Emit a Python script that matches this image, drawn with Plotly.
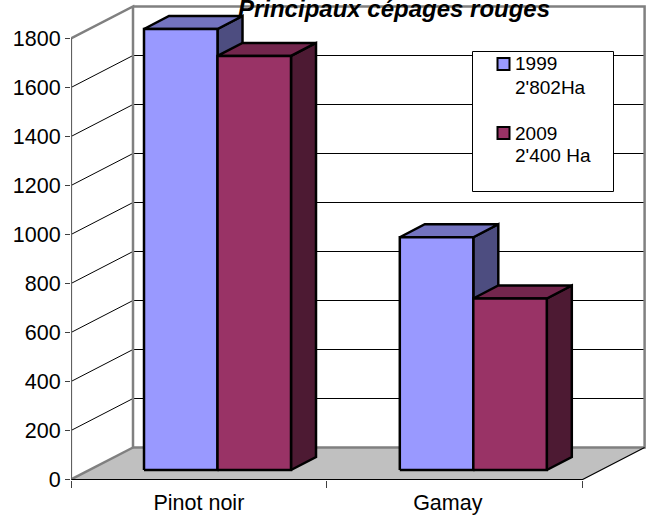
import plotly.graph_objects as go

categories = ["Pinot noir", "Gamay"]
category_label_positions = [0.5, 1.473]
series_names = ["1999", "2009"]
legend_lines = [["1999", "2'802Ha"], ["2009", "2'400 Ha"]]
values_1999 = [1800, 950]
values_2009 = [1690, 700]
y_ticks = [0, 200, 400, 600, 800, 1000, 1200, 1400, 1600, 1800]

FONT = "Liberation Sans, Arial, sans-serif"
W, H = 653, 515
L, B = 71, 35
PX_X, PX_Y = 255.8, 0.245       # pixels per axis unit
WALL_DX, WALL_DY = 62 / PX_X, 32 / PX_Y
BAR_DX, BAR_DY = 25 / PX_X, 13 / PX_Y
BAR_W = 73.5 / PX_X
BAR_X0 = 73 / PX_X
BASE = 9.5 / PX_Y
GREY = "#808080"

colors = {"1999": ("#9999FF", "#7373BF", "#4D4D80"),
          "2009": ("#993366", "#73264D", "#4D1A33")}

n = len(categories)
fig = go.Figure()


def poly(xs, ys, fill, line="black", width=2.5):
    fig.add_trace(go.Scatter(x=xs + xs[:1], y=ys + ys[:1], mode="lines", fill="toself",
                             fillcolor=fill, line=dict(color=line, width=width, shape="linear"),
                             hoverinfo="skip", showlegend=False, cliponaxis=False))


def seg(xs, ys, color, width):
    fig.add_trace(go.Scatter(x=xs, y=ys, mode="lines", line=dict(color=color, width=width),
                             hoverinfo="skip", showlegend=False, cliponaxis=False))


# floor
poly([0, n, n + WALL_DX, WALL_DX], [0, 0, WALL_DY, WALL_DY], "#C0C0C0", "rgba(0,0,0,0)", 0)

# side wall and back wall gridlines
for v in y_ticks[1:]:
    seg([0, WALL_DX, n + WALL_DX], [v, v + WALL_DY, v + WALL_DY], "black", 1)

# wall frame
top = y_ticks[-1]
seg([0, WALL_DX, n + WALL_DX, n + WALL_DX, WALL_DX, WALL_DX, 0],
    [top, top + WALL_DY, top + WALL_DY, WALL_DY, WALL_DY, top + WALL_DY, top], GREY, 2.5)
seg([0, WALL_DX], [0, WALL_DY], GREY, 2.5)

# front edges of floor and axis
seg([0, n, n + WALL_DX], [0, 0, WALL_DY], "black", 1.2)
seg([0, 0], [0, top], "#606060", 2.2)

# bars, back to front, left to right
for i in range(n):
    for k, (name, vals) in enumerate(zip(series_names, [values_1999, values_2009])):
        front, upper, side = colors[name]
        x0 = i + BAR_X0 + k * BAR_W
        x1 = x0 + BAR_W
        y0, y1 = BASE, BASE + vals[i]
        poly([x1, x1 + BAR_DX, x1 + BAR_DX, x1], [y0, y0 + BAR_DY, y1 + BAR_DY, y1], side)
        poly([x0, x1, x1 + BAR_DX, x0 + BAR_DX], [y1, y1, y1 + BAR_DY, y1 + BAR_DY], upper)
        poly([x0, x1, x1, x0], [y0, y0, y1, y1], front)


def px(x):
    return (x - L) / (W - L)


def py(y):
    return (H - B - y) / (H - B)


shapes = [dict(type="rect", xref="paper", yref="paper",
               x0=px(472.5), x1=px(613.5), y0=py(191.5), y1=py(51.5),
               fillcolor="white", line=dict(color="black", width=1), layer="above")]
annotations = []
for name, lines, sy in zip(series_names, legend_lines, (64, 133)):
    shapes.append(dict(type="rect", xref="paper", yref="paper",
                       x0=px(497.5), x1=px(509.5), y0=py(sy + 6), y1=py(sy - 6),
                       fillcolor=colors[name][0], line=dict(color="black", width=2), layer="above"))
    for m, line in enumerate(lines):
        annotations.append(dict(text=line, xref="paper", yref="paper", xanchor="left", yanchor="middle",
                                x=px(513), y=py(sy + m * 23), showarrow=False, align="left",
                                font=dict(family=FONT, size=19, color="black")))

fig.update_layout(
    width=W, height=H, margin=dict(l=L, r=0, t=0, b=B, pad=0),
    paper_bgcolor="white", plot_bgcolor="white", showlegend=False,
    shapes=shapes, annotations=annotations,
    title=dict(text="<b><i>Principaux cépages rouges</i></b>", x=394 / W, xanchor="center",
               y=1 - 8.5 / H, yanchor="middle", yref="container", automargin=False,
               font=dict(family=FONT, size=24, color="black")),
    xaxis=dict(range=[0, (W - L) / PX_X], tickvals=category_label_positions, ticktext=categories,
               automargin=False,
               ticks="", showgrid=False, zeroline=False, showline=False, ticklabelstandoff=7,
               tickfont=dict(family=FONT, size=21.5, color="black"),
               minor=dict(tickvals=list(range(n + 1)), ticks="outside", ticklen=7, tickcolor="#404040",
                          tickwidth=1, showgrid=False)),
    yaxis=dict(range=[-0.5 / PX_Y, (H - B - 0.5) / PX_Y], tickvals=y_ticks, ticks="outside", ticklen=5,
               automargin=False,
               tickwidth=1, tickcolor="#404040", showgrid=False, zeroline=False, showline=False,
               tickfont=dict(family=FONT, size=21.5, color="black")),
)
fig.write_html("out.html", config=dict(displayModeBar=False),
               post_script="document.body.style.margin='0';")
